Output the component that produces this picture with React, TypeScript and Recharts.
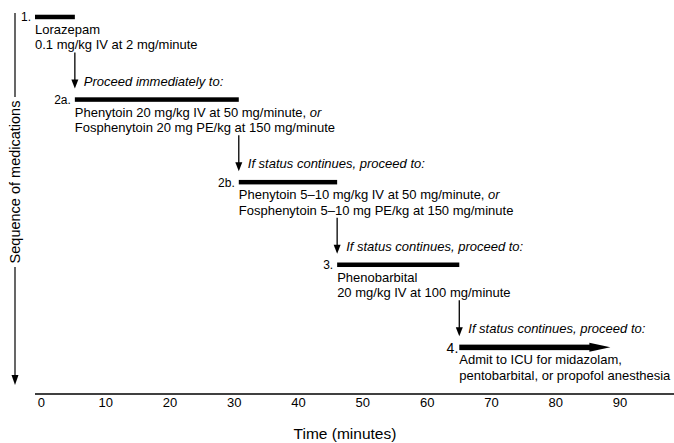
import { BarChart, Bar, XAxis, YAxis } from 'recharts';

// sequence of status epilepticus medications over time (minutes)
const steps = ['1.', '2a.', '2b.', '3.', '4.'];
const startMin = [-1, 5.2, 30.7, 46, 65];
const endMin = [5.2, 30.7, 46, 65, 88.5];
const firstLines = [
  'Lorazepam',
  'Phenytoin 20 mg/kg IV at 50 mg/minute,',
  'Phenytoin 5–10 mg/kg IV at 50 mg/minute,',
  'Phenobarbital',
  'Admit to ICU for midazolam,',
];
const firstLineTail = ['', 'or', 'or', '', ''];
const secondLines = [
  '0.1 mg/kg IV at 2 mg/minute',
  'Fosphenytoin 20 mg PE/kg at 150 mg/minute',
  'Fosphenytoin 5–10 mg PE/kg at 150 mg/minute',
  '20 mg/kg IV at 100 mg/minute',
  'pentobarbital, or propofol anesthesia',
];
const leadIns = [
  '',
  'Proceed immediately to:',
  'If status continues, proceed to:',
  'If status continues, proceed to:',
  'If status continues, proceed to:',
];
const timeTicks = [0, 10, 20, 30, 40, 50, 60, 70, 80, 90];

const data = steps.map((s, i) => ({
  step: i,
  label: s,
  span: [startMin[i], endMin[i]],
  line1: firstLines[i],
  tail: firstLineTail[i],
  line2: secondLines[i],
  leadIn: leadIns[i],
}));

function StepBar(props: any) {
  const { x, y, width, height, index, payload } = props;
  const cy = y + height / 2;
  const last = index === steps.length - 1;
  const thick = last ? 5.5 : 4.5;
  const headLen = 21;

  return (
    <g>
      {last ? (
        <>
          <rect x={x} y={cy - thick / 2} width={width - headLen + 1} height={thick} fill="#000" />
          <polygon
            points={`${x + width - headLen},${cy - 4.5} ${x + width},${cy} ${x + width - headLen},${cy + 4.5}`}
            fill="#000"
          />
        </>
      ) : (
        <rect x={x} y={cy - thick / 2} width={width} height={thick} fill="#000" />
      )}

      <text x={x - (last ? 1 : 4)} y={cy + (last ? 6 : 4.5)} textAnchor="end" fontSize={last ? 14 : 12}>
        {payload.label}
      </text>

      <text x={x} y={cy + 17} fontSize={13}>
        {payload.line1}
        {payload.tail ? <tspan fontStyle="italic"> {payload.tail}</tspan> : null}
      </text>
      <text x={x} y={cy + 32.5} fontSize={13}>
        {payload.line2}
      </text>

      {index > 0 && (
        <>
          <line x1={x} y1={cy - 47} x2={x} y2={cy - 18} stroke="#000" strokeWidth={1.3} />
          <polygon points={`${x - 3.5},${cy - 20} ${x + 3.5},${cy - 20} ${x},${cy - 11}`} fill="#000" />
          <text x={x + 9} y={cy - 14} fontSize={13} fontStyle="italic">
            {payload.leadIn}
          </text>
        </>
      )}
    </g>
  );
}

const SequenceAxis = () => (
  <g>
    <line x1={15} y1={13} x2={15} y2={97} stroke="#000" strokeWidth={1.2} />
    <line x1={15} y1={267} x2={15} y2={377} stroke="#000" strokeWidth={1.2} />
    <polygon points="11.5,375 18.5,375 15,385" fill="#000" />
    <text
      x={15}
      y={182}
      transform="rotate(-90 15 182)"
      textAnchor="middle"
      dominantBaseline="central"
      fontSize={14.5}
    >
      Sequence of medications
    </text>
  </g>
);

const TimeLabel = () => (
  <text x={345} y={439} textAnchor="middle" fontSize={15.5}>
    Time (minutes)
  </text>
);

export default function App() {
  return (
    <div
      style={{
        position: 'absolute',
        left: 0,
        top: 0,
        background: '#fff',
        fontFamily: "'Liberation Sans', Arial, Helvetica, sans-serif",
      }}
    >
      <BarChart
        width={674}
        height={443}
        data={data}
        layout="vertical"
        margin={{ top: 0, right: 0, bottom: 0, left: 35 }}
      >
        <XAxis
          type="number"
          domain={[-1, 98.4]}
          ticks={timeTicks}
          height={49}
          tickLine={false}
          tickSize={4}
          tickMargin={0}
          axisLine={{ stroke: '#000', strokeWidth: 1.5 }}
          tick={{ fill: '#000', fontSize: 13 }}
          label={{ content: TimeLabel }}
        />
        <YAxis
          type="number"
          dataKey="step"
          domain={[-0.203, 4.567]}
          width={0}
          axisLine={false}
          tickLine={false}
          tick={false}
        />
        <Bar dataKey="span" barSize={5} fill="#000" shape={StepBar} isAnimationActive={false} />
        <SequenceAxis />
      </BarChart>
    </div>
  );
}
